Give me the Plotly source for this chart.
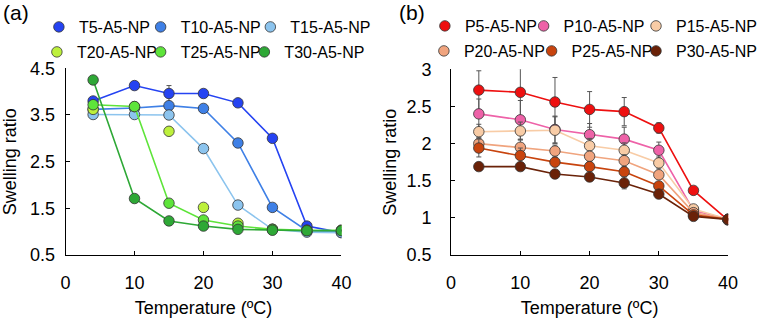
import plotly.graph_objects as go

W, H = 762, 318

temps = [4, 10, 15, 20, 25, 30, 35, 40]

t_names = ["T5-A5-NP", "T10-A5-NP", "T15-A5-NP", "T20-A5-NP", "T25-A5-NP", "T30-A5-NP"]
T5 = [3.80, 4.13, 3.96, 3.96, 3.76, 3.00, 1.12, 0.98]
T10 = [3.62, 3.65, 3.70, 3.64, 2.90, 1.52, 1.02, 1.00]
T15 = [3.51, 3.51, 3.50, 2.78, 1.57, 1.05, 0.99, 0.98]
T20 = [3.62, 3.68, 3.15, 1.52, 1.18, 1.05, 1.03, 1.03]
T25 = [3.72, 3.68, 1.61, 1.25, 1.12, 1.05, 1.03, 1.03]
T30 = [4.25, 1.71, 1.23, 1.12, 1.05, 1.03, 1.02, 1.02]
T5_err = [0.03, 0.06, 0.17, 0.03, 0.04, 0.03, 0.02, 0.01]
T10_err = [0.03, 0.03, 0.03, 0.03, 0.04, 0.03, 0.02, 0.01]
T15_err = [0.02, 0.02, 0.05, 0.03, 0.03, 0.02, 0.02, 0.01]
T20_err = [0.03, 0.03, 0.03, 0.03, 0.03, 0.02, 0.02, 0.01]
T25_err = [0.03, 0.03, 0.03, 0.03, 0.02, 0.02, 0.02, 0.01]
T30_err = [0.03, 0.03, 0.07, 0.03, 0.03, 0.02, 0.02, 0.01]

p_names = ["P5-A5-NP", "P10-A5-NP", "P15-A5-NP", "P20-A5-NP", "P25-A5-NP", "P30-A5-NP"]
P5 = [2.72, 2.69, 2.56, 2.46, 2.43, 2.21, 1.37, 0.97]
P10 = [2.40, 2.32, 2.19, 2.12, 2.06, 1.91, 1.10, 0.98]
P15 = [2.16, 2.17, 2.18, 1.97, 1.91, 1.74, 1.12, 0.98]
P20 = [2.00, 1.95, 1.90, 1.83, 1.77, 1.58, 1.07, 0.98]
P25 = [1.94, 1.84, 1.75, 1.69, 1.62, 1.43, 1.04, 0.98]
P30 = [1.69, 1.69, 1.59, 1.55, 1.47, 1.32, 1.02, 0.98]
P5_err = [0.26, 0.32, 0.33, 0.24, 0.19, 0.07, 0.02, 0.01]
P10_err = [0.20, 0.26, 0.18, 0.15, 0.16, 0.11, 0.03, 0.01]
P15_err = [0.10, 0.12, 0.18, 0.10, 0.10, 0.08, 0.02, 0.01]
P20_err = [0.08, 0.10, 0.08, 0.07, 0.08, 0.05, 0.02, 0.01]
P25_err = [0.12, 0.10, 0.06, 0.06, 0.06, 0.04, 0.02, 0.01]
P30_err = [0.05, 0.05, 0.04, 0.04, 0.08, 0.04, 0.02, 0.01]

a_ticks = [0.5, 1.5, 2.5, 3.5, 4.5]
a_ticktext = ["0.5", "1.5", "2.5", "3.5", "4.5"]
b_ticks = [0.5, 1, 1.5, 2, 2.5, 3]
b_ticktext = ["0.5", "1", "1.5", "2", "2.5", "3"]
x_ticks = [0, 10, 20, 30, 40]

t_colors = ["#2543F2", "#3F80E6", "#8CC4EE", "#BDF03C", "#5EE43A", "#2EA836"]
p_colors = ["#EE1010", "#EE62A8", "#F8CCA6", "#F0A47E", "#C8440E", "#6A2208"]

FONT = "Liberation Sans, Arial, sans-serif"

# legend entry positions (pixel x where the label text starts, pixel y of row centre)
t_leg_pos = [(79, 27), (181, 27), (291, 27), (77, 52), (181, 52), (285, 52)]
p_leg_pos = [(466, 26), (565, 26), (678, 26), (465, 51), (573, 51), (678, 51)]

fig = go.Figure()

def legname(k):
    return "legend" if k == 1 else f"legend{k}"

def add_series(name, ys, es, c, xa, ya, leg, with_line):
    if with_line:
        fig.add_trace(go.Scatter(
            x=temps, y=ys, name=name, mode="lines",
            line=dict(color=c, width=1.6),
            xaxis=xa, yaxis=ya, showlegend=False, legend=leg, hoverinfo="skip",
        ))
    fig.add_trace(go.Scatter(
        x=temps, y=ys, name=name, mode="markers",
        marker=dict(size=10.5, color=c, line=dict(color="#333333", width=0.8)),
        error_y=dict(type="data", array=es, color="#555555", thickness=1, width=2.5),
        xaxis=xa, yaxis=ya, showlegend=True, legend=leg,
    ))

t_series = [T5, T10, T15, T20, T25, T30]
t_errs = [T5_err, T10_err, T15_err, T20_err, T25_err, T30_err]
for i, (name, ys, es, c) in enumerate(zip(t_names, t_series, t_errs, t_colors)):
    add_series(name, ys, es, c, "x", "y", legname(i + 1), name != "T20-A5-NP")

p_series = [P5, P10, P15, P20, P25, P30]
p_errs = [P5_err, P10_err, P15_err, P20_err, P25_err, P30_err]
for i, (name, ys, es, c) in enumerate(zip(p_names, p_series, p_errs, p_colors)):
    add_series(name, ys, es, c, "x2", "y2", legname(i + 7), True)

TICKF = dict(family=FONT, size=18, color="black")
TITLEF = dict(family=FONT, size=18, color="black")

axis_common = dict(
    showline=True, linecolor="black", linewidth=1,
    ticks="inside", ticklen=4, tickcolor="black", tickwidth=1,
    showgrid=False, zeroline=False, automargin=False,
    tickfont=TICKF,
)

def px_x(p):
    return p / W

def px_y(p):
    return 1 - p / H

xa = dict(axis_common, domain=[px_x(65.7), px_x(342.3)], range=[0, 40],
          tickvals=x_ticks, anchor="y", ticklabelstandoff=11,
          title=dict(text="Temperature (ºC)", font=TITLEF, standoff=15))
ya = dict(axis_common, domain=[px_y(255), px_y(68.3)], range=[0.5, 4.5],
          tickvals=a_ticks, ticktext=a_ticktext, anchor="x", ticklabelstandoff=6,
          title=dict(text="Swelling ratio", font=TITLEF, standoff=20))
xb = dict(axis_common, domain=[px_x(452.3), px_x(730)], range=[0, 40],
          tickvals=x_ticks, anchor="y2", ticklabelstandoff=11,
          title=dict(text="Temperature (ºC)", font=TITLEF, standoff=15))
yb = dict(axis_common, domain=[px_y(255), px_y(69.3)], range=[0.5, 3],
          tickvals=b_ticks, ticktext=b_ticktext, anchor="x2", ticklabelstandoff=15,
          title=dict(text="Swelling ratio", font=TITLEF, standoff=5))

def leg(xp, yp):
    return dict(
        orientation="h", x=px_x(xp), y=px_y(yp), xanchor="left", yanchor="middle",
        font=dict(family=FONT, size=16, color="black"),
        itemwidth=30,
        bgcolor="rgba(0,0,0,0)", borderwidth=0, tracegroupgap=0,
        itemclick=False, itemdoubleclick=False,
    )

legends = {}
for k, (xp, yp) in enumerate(t_leg_pos + p_leg_pos, start=1):
    legends[legname(k)] = leg(xp - 40, yp)

fig.update_layout(
    width=W, height=H,
    margin=dict(l=0, r=0, t=0, b=0),
    paper_bgcolor="white", plot_bgcolor="white",
    font=dict(family=FONT, size=16, color="black"),
    showlegend=True,
    xaxis=xa, yaxis=ya, xaxis2=xb, yaxis2=yb,
    annotations=[
        dict(text="(a)", x=px_x(1), y=px_y(13), xref="paper", yref="paper",
             xanchor="left", yanchor="middle", showarrow=False,
             font=dict(family=FONT, size=21, color="black")),
        dict(text="(b)", x=px_x(398), y=px_y(13), xref="paper", yref="paper",
             xanchor="left", yanchor="middle", showarrow=False,
             font=dict(family=FONT, size=21, color="black")),
    ],
    **legends,
)

fig.write_html("out.html", config={"displayModeBar": False},
               post_script="document.body.style.margin = '0';")
